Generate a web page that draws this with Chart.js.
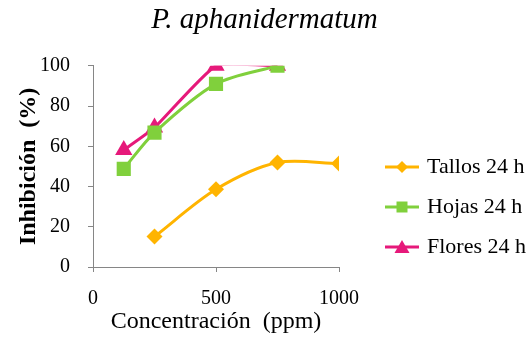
<!DOCTYPE html>
<html>
<head>
<meta charset="utf-8">
<script src="https://cdn.jsdelivr.net/npm/chart.js@4"></script>
<style>
  html, body { margin: 0; padding: 0; background: #fff; }
  #wrap { width: 531px; height: 354px; }
</style>
</head>
<body>
<div id="wrap"><canvas id="chart" width="531" height="354"></canvas></div>
<script>
const tallosX = [250, 500, 750, 1000];
const tallosY = [15.1, 38.6, 51.9, 51.4];
const hojasX = [125, 250, 500, 750];
const hojasY = [48.8, 66.8, 91, 100];
const floresX = [125, 250, 500, 750];
const floresY = [58.2, 69.3, 100, 100];

const xTicks = [0, 500, 1000];
const yTicks = [0, 20, 40, 60, 80, 100];

const FONT = "'Liberation Serif', 'DejaVu Serif', serif";
const AXIS_COLOR = "#868686";

function toPoints(xs, ys) {
  return xs.map((x, i) => ({ x, y: ys[i] }));
}

// line + marker drawn on a small canvas, used as the legend symbol
function legendIcon(color, style) {
  const c = document.createElement("canvas");
  c.width = 34;
  c.height = 16;
  const g = c.getContext("2d");
  g.strokeStyle = color;
  g.fillStyle = color;
  g.lineWidth = 3;
  g.beginPath();
  g.moveTo(0, 8);
  g.lineTo(34, 8);
  g.stroke();
  g.beginPath();
  if (style === "diamond") {
    g.moveTo(17, 2); g.lineTo(23, 8); g.lineTo(17, 14); g.lineTo(11, 8);
  } else if (style === "square") {
    g.rect(11.5, 2.5, 11, 11);
  } else {
    g.moveTo(17, 1); g.lineTo(24.5, 14); g.lineTo(9.5, 14);
  }
  g.closePath();
  g.fill();
  return c;
}

const series = [
  { label: "Tallos 24 h", xs: tallosX, ys: tallosY, color: "#FFB400", point: "rectRot", r: 8, icon: "diamond", tension: 0.3 },
  { label: "Hojas 24 h", xs: hojasX, ys: hojasY, color: "#80D03C", point: "rect", r: 10, icon: "square", tension: 0.3 },
  { label: "Flores 24 h", xs: floresX, ys: floresY, color: "#E6197A", point: "triangle", r: 10, icon: "triangle", tension: 0.15 },
];

const icons = series.map((s) => legendIcon(s.color, s.icon));

// nudge legend and title to where the original has them
const boxShift = {
  id: "boxShift",
  afterLayout(chart) {
    const lg = chart.legend;
    lg.left += 31;
    lg.right = 531;
    lg.width = lg.right - lg.left;
    lg.top += 39;
    lg.bottom += 39;
    const tb = chart.titleBlock;
    tb.left += 13;
    tb.right += 13;
  },
};

new Chart(document.getElementById("chart"), {
  type: "line",
  data: {
    datasets: series.map((s) => ({
      label: s.label,
      data: toPoints(s.xs, s.ys),
      borderColor: s.color,
      backgroundColor: s.color,
      borderWidth: 3,
      pointStyle: s.point,
      pointRadius: s.r,
      pointHoverRadius: s.r,
      pointBorderWidth: 0,
      tension: s.tension,
      capBezierPoints: false,
      clip: 0,
    })),
  },
  options: {
    responsive: false,
    animation: false,
    layout: { padding: { left: 14, right: 42, top: 0, bottom: 18 } },
    plugins: {
      title: {
        display: true,
        text: "P. aphanidermatum",
        color: "#000",
        font: { family: FONT, size: 29, style: "italic", weight: "normal" },
        padding: { top: 3, bottom: 28 },
      },
      legend: {
        position: "right",
        align: "center",
        maxWidth: 150,
        labels: {
          color: "#000",
          font: { family: FONT, size: 22 },
          usePointStyle: true,
          pointStyleWidth: 28,
          boxHeight: 16,
          padding: 18,
          generateLabels: () =>
            series.map((s, i) => ({
              text: s.label,
              pointStyle: icons[i],
              fillStyle: s.color,
              strokeStyle: s.color,
              lineWidth: 0,
              datasetIndex: i,
              hidden: false,
            })),
        },
      },
      tooltip: { enabled: false },
    },
    scales: {
      x: {
        type: "linear",
        min: 0,
        max: 1000,
        afterBuildTicks: (axis) => {
          axis.ticks = xTicks.map((v) => ({ value: v }));
        },
        afterFit: (axis) => {
          axis.height = 69;
        },
        grid: { display: true, drawOnChartArea: false, drawTicks: true, tickLength: 5, color: AXIS_COLOR },
        border: { display: true, color: AXIS_COLOR, width: 1 },
        ticks: { color: "#000", font: { family: FONT, size: 20 }, padding: 15, maxRotation: 0, callback: (v) => String(v) },
        title: {
          display: true,
          text: "Concentración  (ppm)",
          color: "#000",
          font: { family: FONT, size: 24 },
          padding: { top: 0, bottom: 0 },
        },
      },
      y: {
        type: "linear",
        min: 0,
        max: 100,
        afterBuildTicks: (axis) => {
          axis.ticks = yTicks.map((v) => ({ value: v }));
        },
        afterFit: (axis) => {
          axis.width = 79;
        },
        grid: { display: true, drawOnChartArea: false, drawTicks: true, tickLength: 5, color: AXIS_COLOR },
        border: { display: true, color: AXIS_COLOR, width: 1 },
        ticks: { color: "#000", font: { family: FONT, size: 20 }, padding: 18 },
        title: {
          display: true,
          text: "Inhibición  (%)",
          color: "#000",
          font: { family: FONT, size: 24, weight: "bold" },
          padding: { top: 0, bottom: 0 },
        },
      },
    },
  },
  plugins: [boxShift],
});
</script>
</body>
</html>
